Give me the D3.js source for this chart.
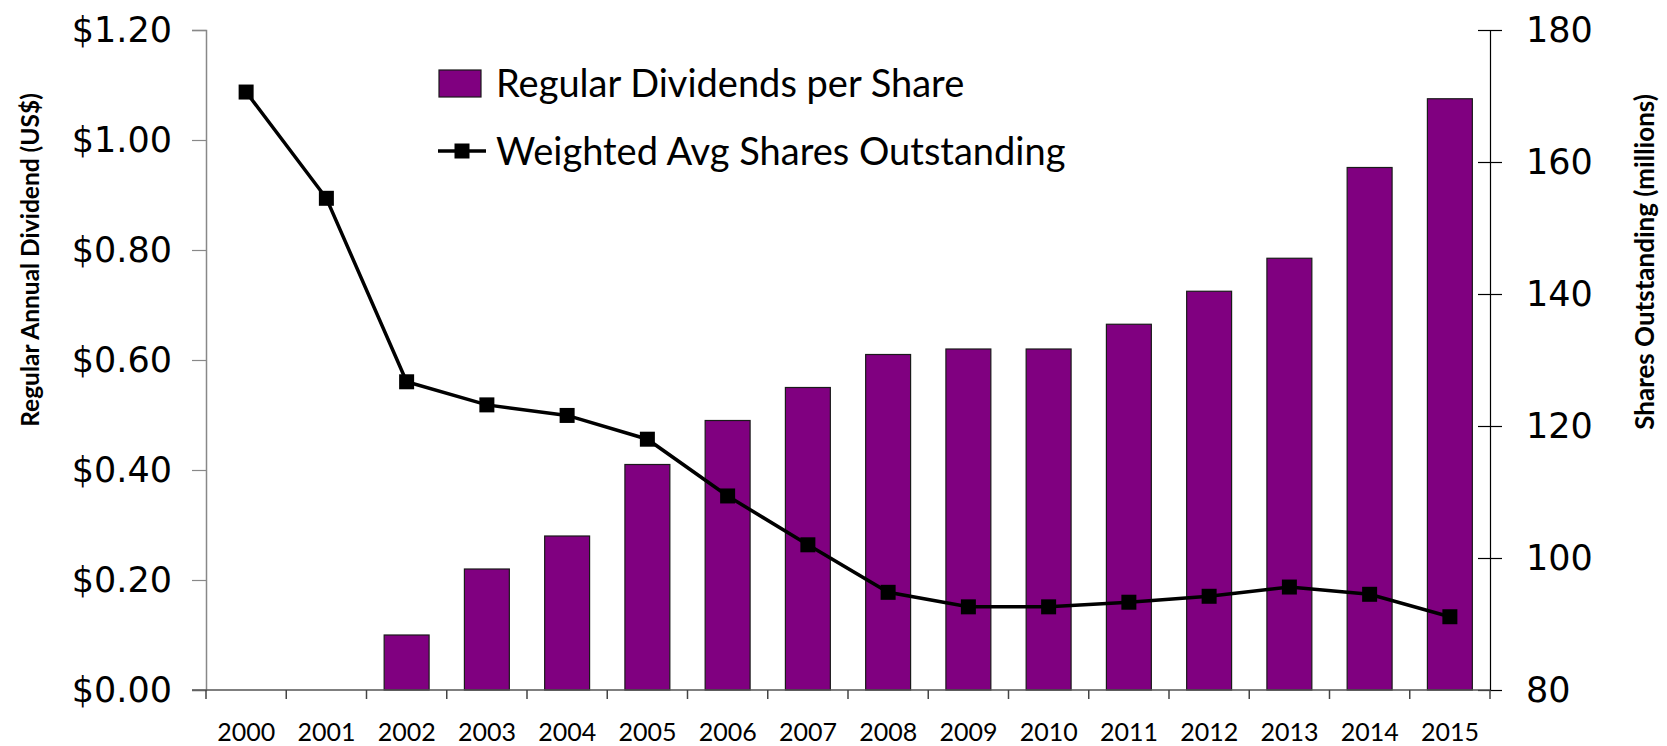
<!DOCTYPE html>
<html>
<head>
<meta charset="utf-8">
<script src="https://cdn.jsdelivr.net/npm/d3@7"></script>
<style>
  body { margin: 0; background: #fff; }
  svg { display: block; }
</style>
</head>
<body>
<div id="chart"></div>
<script>
// data
const years = ["2000","2001","2002","2003","2004","2005","2006","2007",
               "2008","2009","2010","2011","2012","2013","2014","2015"];
const dividends = [0, 0, 0.10, 0.22, 0.28, 0.41, 0.49, 0.55,
                   0.61, 0.62, 0.62, 0.665, 0.725, 0.785, 0.95, 1.075];
const shares = [170.6, 154.5, 126.7, 123.2, 121.6, 118.0, 109.4, 102.0,
                94.8, 92.6, 92.6, 93.3, 94.2, 95.6, 94.5, 91.1];
const leftTicks = [0, 0.2, 0.4, 0.6, 0.8, 1.0, 1.2];
const rightTicks = [80, 100, 120, 140, 160, 180];
const legendLabels = ["Regular Dividends per Share", "Weighted Avg Shares Outstanding"];

const W = 1667, H = 746;
const plotL = 206, plotR = 1490, plotT = 30, plotB = 690;

const svg = d3.select("#chart").append("svg")
  .attr("width", W).attr("height", H);

const x = d3.scaleBand().domain(years).range([plotL, plotR]).paddingInner(0.44).paddingOuter(0.22);
const xTick = d3.scaleBand().domain(years).range([plotL, plotR]);
const yL = d3.scaleLinear().domain([0, 1.2]).range([plotB, plotT]);
const yR = d3.scaleLinear().domain([80, 180]).range([plotB, plotT]);

// bars
svg.selectAll(".bar")
  .data(years.map((y, i) => ({ year: y, v: dividends[i] })).filter(d => d.v > 0))
  .enter().append("rect")
  .attr("class", "bar")
  .attr("x", d => x(d.year))
  .attr("y", d => yL(d.v))
  .attr("width", x.bandwidth())
  .attr("height", d => plotB - yL(d.v))
  .attr("fill", "#800080")
  .attr("stroke", "#1a1a1a")
  .attr("stroke-width", 1.2);

// left axis
const gL = svg.append("g")
  .attr("transform", `translate(${plotL},0)`)
  .call(d3.axisLeft(yL).tickValues(leftTicks).tickSize(14).tickPadding(20)
    .tickFormat(d => "$" + d3.format(".2f")(d)));
gL.select(".domain").attr("stroke", "#888").attr("stroke-width", 1.5);
gL.selectAll(".tick line").attr("stroke", "#888").attr("stroke-width", 1.2);
gL.selectAll("text").attr("font-family", "'DejaVu Sans', sans-serif")
  .attr("font-size", 35).attr("fill", "#000");

// right axis (ticks crossing)
const gR = svg.append("g")
  .attr("transform", `translate(${plotR},0)`)
  .call(d3.axisRight(yR).tickValues(rightTicks).tickSize(12).tickPadding(24));
gR.select(".domain").attr("stroke", "#000").attr("stroke-width", 1.2);
gR.selectAll(".tick line").attr("x1", -12).attr("stroke", "#000").attr("stroke-width", 1.2);
gR.selectAll("text").attr("font-family", "'DejaVu Sans', sans-serif")
  .attr("font-size", 35).attr("fill", "#000");

// x axis
const gX = svg.append("g")
  .attr("transform", `translate(0,${plotB})`)
  .call(d3.axisBottom(xTick).tickSize(0));
gX.select(".domain").remove();
gX.append("line")
  .attr("x1", plotL - 14).attr("x2", plotR)
  .attr("stroke", "#555").attr("stroke-width", 1.5);
gX.selectAll(".xt")
  .data(years.concat(["end"]))
  .enter().append("line")
  .attr("x1", (d, i) => plotL + i * xTick.step())
  .attr("x2", (d, i) => plotL + i * xTick.step())
  .attr("y1", 0).attr("y2", 9)
  .attr("stroke", "#444").attr("stroke-width", 1.5);
gX.selectAll(".tick text").attr("font-family", "Lato, sans-serif")
  .attr("font-size", 25).attr("fill", "#000")
  .attr("y", 51).attr("dy", 0);

// line + markers
const cx = d => x(d) + x.bandwidth() / 2;
const pts = years.map((y, i) => [cx(y), yR(shares[i])]);
svg.append("path")
  .attr("d", d3.line()(pts))
  .attr("fill", "none")
  .attr("stroke", "#000")
  .attr("stroke-width", 3.5);
svg.selectAll(".mk")
  .data(pts)
  .enter().append("rect")
  .attr("x", d => d[0] - 7.5).attr("y", d => d[1] - 7.5)
  .attr("width", 15).attr("height", 15)
  .attr("fill", "#000");

// axis titles
svg.append("text")
  .attr("transform", `translate(39,260) rotate(-90)`)
  .attr("text-anchor", "middle")
  .attr("font-family", "Lato, sans-serif")
  .attr("font-weight", "bold")
  .attr("font-size", 24.5)
  .text("Regular Annual Dividend (US$)");
svg.append("text")
  .attr("transform", `translate(1654,262) rotate(-90)`)
  .attr("text-anchor", "middle")
  .attr("font-family", "Lato, sans-serif")
  .attr("font-weight", "bold")
  .attr("font-size", 26)
  .text("Shares Outstanding (millions)");

// legend
const lg = svg.append("g");
lg.append("rect")
  .attr("x", 439).attr("y", 70).attr("width", 42).attr("height", 27)
  .attr("fill", "#800080").attr("stroke", "#1a1a1a").attr("stroke-width", 1.2);
lg.append("line")
  .attr("x1", 438).attr("x2", 486).attr("y1", 151).attr("y2", 151)
  .attr("stroke", "#000").attr("stroke-width", 3.5);
lg.append("rect")
  .attr("x", 454.5).attr("y", 143.5).attr("width", 15).attr("height", 15)
  .attr("fill", "#000");
lg.selectAll(".lt")
  .data(legendLabels)
  .enter().append("text")
  .attr("x", 496)
  .attr("y", (d, i) => 97 + i * 68)
  .attr("font-family", "Lato, sans-serif")
  .attr("font-size", 38)
  .attr("fill", "#000")
  .text(d => d);
</script>
</body>
</html>
